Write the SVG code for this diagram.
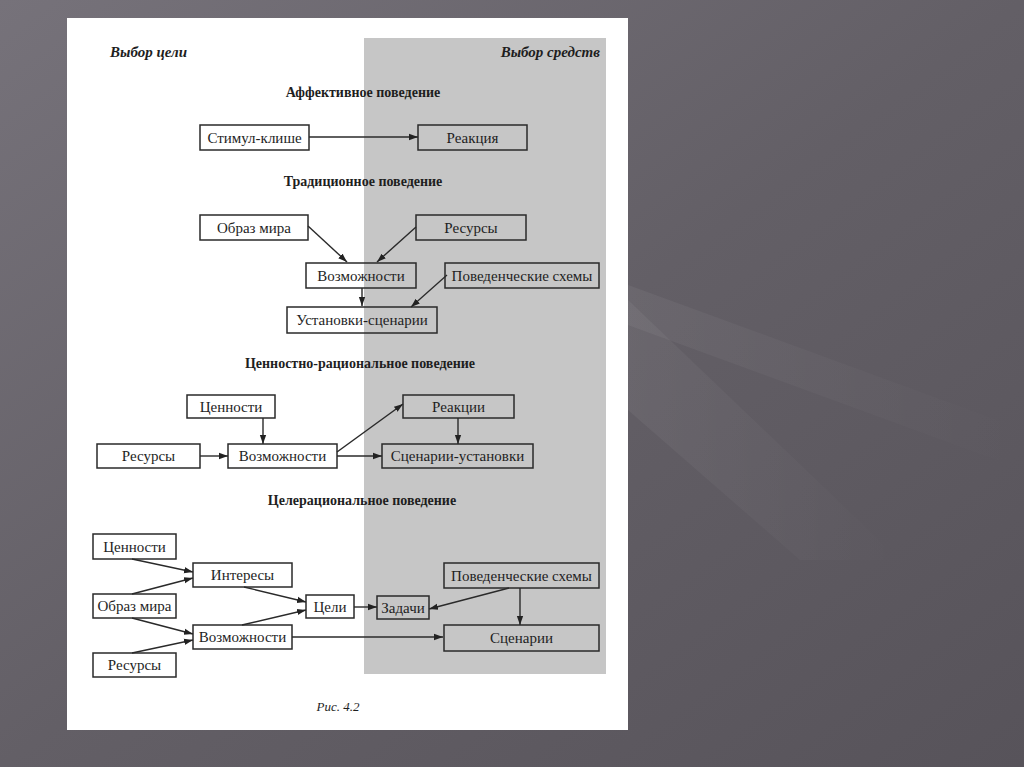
<svg xmlns="http://www.w3.org/2000/svg" width="1024" height="767" viewBox="0 0 1024 767">
<defs>
<linearGradient id="bg" x1="0" y1="0" x2="1" y2="1">
<stop offset="0" stop-color="#76727a"/>
<stop offset="0.5" stop-color="#635f66"/>
<stop offset="1" stop-color="#57535a"/>
</linearGradient>
<linearGradient id="ray" x1="0" y1="0" x2="1" y2="0">
<stop offset="0" stop-color="#ffffff" stop-opacity="0.05"/>
<stop offset="1" stop-color="#ffffff" stop-opacity="0"/>
</linearGradient>
<marker id="ah" viewBox="0 0 10 10" refX="10" refY="5" markerWidth="9" markerHeight="9" orient="auto" markerUnits="userSpaceOnUse">
<path d="M0,1.5 L10,5 L0,8.5 z" fill="#222"/>
</marker>
</defs>
<style>
.box{fill:none;stroke:#2a2a2a;stroke-width:1.5}
.lbl{font-family:"Liberation Serif",serif;font-size:15px;fill:#1e1e1e;text-anchor:middle}
.hdr{font-family:"Liberation Serif",serif;font-size:14px;font-weight:bold;fill:#1e1e1e;text-anchor:middle}
.side{font-family:"Liberation Serif",serif;font-size:15px;font-weight:bold;font-style:italic;fill:#1e1e1e}
.con{stroke:#2a2a2a;stroke-width:1.4;fill:none;marker-end:url(#ah)}
</style>
<rect x="0" y="0" width="1024" height="767" fill="url(#bg)"/>
<polygon points="628,285 1024,430 1024,470 628,325" fill="url(#ray)"/>
<polygon points="628,300 900,560 800,560 628,410" fill="url(#ray)"/>
<rect x="67" y="18" width="561" height="712" fill="#ffffff"/>
<rect x="364" y="38" width="242" height="636" fill="#c6c6c6"/>
<text class="side" x="110" y="57">Выбор цели</text>
<text class="side" x="600" y="57" text-anchor="end">Выбор средств</text>
<text class="hdr" x="363" y="97">Аффективное поведение</text>
<text class="hdr" x="363" y="186">Традиционное поведение</text>
<text class="hdr" x="360" y="368">Ценностно-рациональное поведение</text>
<text class="hdr" x="362" y="505">Целерациональное поведение</text>
<text class="side" x="338" y="711" style="font-size:13px;font-weight:normal" text-anchor="middle">Рис. 4.2</text>

<g id="connectors">
<line class="con" x1="309" y1="137" x2="418" y2="137"/>
<line class="con" x1="308" y1="226" x2="347" y2="262"/>
<line class="con" x1="416" y1="227" x2="377" y2="262"/>
<line class="con" x1="362" y1="288" x2="362" y2="306"/>
<line class="con" x1="447" y1="275" x2="411" y2="307"/>
<line class="con" x1="263" y1="418" x2="263" y2="444"/>
<line class="con" x1="200" y1="456" x2="228" y2="456"/>
<line class="con" x1="337" y1="452" x2="403" y2="404"/>
<line class="con" x1="337" y1="456" x2="382" y2="456"/>
<line class="con" x1="458" y1="418" x2="458" y2="444"/>
<line class="con" x1="132" y1="559" x2="193" y2="572"/>
<line class="con" x1="132" y1="594" x2="193" y2="578"/>
<line class="con" x1="132" y1="618" x2="193" y2="634"/>
<line class="con" x1="132" y1="653" x2="193" y2="640"/>
<line class="con" x1="244" y1="587" x2="306" y2="602"/>
<line class="con" x1="242" y1="625" x2="306" y2="610"/>
<line class="con" x1="354" y1="607" x2="377" y2="607"/>
<line class="con" x1="509" y1="588" x2="429" y2="609"/>
<line class="con" x1="520" y1="588" x2="520" y2="625"/>
<line class="con" x1="292" y1="637" x2="443" y2="637"/>
</g>

<g id="n-stimul"><rect class="box" x="200" y="125" width="109" height="25"/><text class="lbl" x="254.5" y="142.5">Стимул-клише</text></g>
<g id="n-reakcia"><rect class="box" x="418" y="125" width="109" height="25"/><text class="lbl" x="472.5" y="142.5">Реакция</text></g>

<g id="n-obraz1"><rect class="box" x="200" y="215" width="108" height="25"/><text class="lbl" x="254" y="232.5">Образ мира</text></g>
<g id="n-resursy1"><rect class="box" x="416" y="215" width="110" height="25"/><text class="lbl" x="471" y="232.5">Ресурсы</text></g>
<g id="n-vozm1"><rect class="box" x="306" y="263" width="110" height="25"/><text class="lbl" x="361" y="280.5">Возможности</text></g>
<g id="n-povsh1"><rect class="box" x="445" y="263" width="154" height="25"/><text class="lbl" x="522" y="280.5">Поведенческие схемы</text></g>
<g id="n-ustan"><rect class="box" x="287" y="307" width="150" height="26"/><text class="lbl" x="362" y="325">Установки-сценарии</text></g>

<g id="n-cenn1"><rect class="box" x="187" y="395" width="88" height="23"/><text class="lbl" x="231" y="411.5">Ценности</text></g>
<g id="n-resursy2"><rect class="box" x="97" y="444" width="103" height="24"/><text class="lbl" x="148.5" y="461">Ресурсы</text></g>
<g id="n-vozm2"><rect class="box" x="228" y="444" width="109" height="24"/><text class="lbl" x="282.5" y="461">Возможности</text></g>
<g id="n-reakcii"><rect class="box" x="403" y="395" width="111" height="23"/><text class="lbl" x="458.5" y="411.5">Реакции</text></g>
<g id="n-scenust"><rect class="box" x="382" y="444" width="151" height="24"/><text class="lbl" x="457.5" y="461">Сценарии-установки</text></g>

<g id="n-cenn2"><rect class="box" x="93" y="534" width="83" height="25"/><text class="lbl" x="134.5" y="551.5">Ценности</text></g>
<g id="n-inter"><rect class="box" x="193" y="563" width="99" height="24"/><text class="lbl" x="242.5" y="580">Интересы</text></g>
<g id="n-obraz2"><rect class="box" x="93" y="594" width="83" height="24"/><text class="lbl" x="134.5" y="611">Образ мира</text></g>
<g id="n-celi"><rect class="box" x="306" y="595" width="48" height="23"/><text class="lbl" x="330" y="611.5">Цели</text></g>
<g id="n-zadachi"><rect class="box" x="377" y="596" width="52" height="23"/><text class="lbl" x="403" y="612.5">Задачи</text></g>
<g id="n-povsh2"><rect class="box" x="444" y="563" width="155" height="25"/><text class="lbl" x="521.5" y="580.5">Поведенческие схемы</text></g>
<g id="n-vozm3"><rect class="box" x="193" y="625" width="99" height="24"/><text class="lbl" x="242.5" y="642">Возможности</text></g>
<g id="n-scen"><rect class="box" x="444" y="625" width="155" height="26"/><text class="lbl" x="521.5" y="643">Сценарии</text></g>
<g id="n-resursy3"><rect class="box" x="93" y="653" width="83" height="24"/><text class="lbl" x="134.5" y="670">Ресурсы</text></g>
</svg>
